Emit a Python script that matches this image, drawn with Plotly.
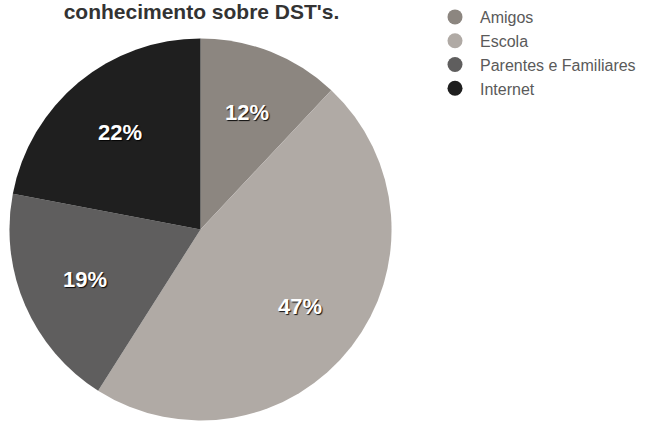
import math
import plotly.graph_objects as go

labels = ["Amigos", "Escola", "Parentes e Familiares", "Internet"]
values = [12, 47, 19, 22]
colors = ["#8c8680", "#b0aaa5", "#5f5e5e", "#1f1f1f"]
title_text = "conhecimento sobre DST's."

W, H = 661, 421
cx, cy, r = 200.5, 229, 191.5
label_frac = 0.66

fig = go.Figure()
fig.add_trace(go.Pie(
    labels=labels, values=values, sort=False, direction="clockwise", rotation=0,
    marker=dict(colors=colors, line=dict(width=0)),
    textinfo="none", showlegend=False, hoverinfo="label+percent",
    domain=dict(x=[(cx - r) / W, (cx + r) / W], y=[1 - (cy + r) / H, 1 - (cy - r) / H]),
))
for lab, col in zip(labels, colors):
    fig.add_trace(go.Scatter(x=[None], y=[None], mode="markers", name=lab,
                             marker=dict(symbol="circle", size=15, color=col)))

# percent labels placed along each slice's mid-angle
total = sum(values)
cum = 0
annotations = []
for v in values:
    mid = (cum + v / 2) / total * 2 * math.pi
    cum += v
    px = cx + label_frac * r * math.sin(mid)
    py = cy - label_frac * r * math.cos(mid)
    annotations.append(dict(
        x=px / W, y=1 - py / H, xref="paper", yref="paper", showarrow=False,
        text=f"{round(v / total * 100)}%", xanchor="center", yanchor="middle",
        font=dict(family="Liberation Sans", size=22, color="white", weight="bold",
                  shadow="1px 1px 1px rgba(0,0,0,0.9)"),
    ))

fig.update_layout(
    width=W, height=H, margin=dict(l=0, r=0, t=0, b=0),
    paper_bgcolor="white", plot_bgcolor="white",
    xaxis=dict(visible=False), yaxis=dict(visible=False),
    annotations=annotations,
    title=dict(text=title_text, x=201.5 / W, xanchor="center", xref="paper",
               y=1 - 12 / H, yref="container", yanchor="middle",
               font=dict(family="Liberation Sans", size=21, color="#333333", weight="bold")),
    legend=dict(x=430 / W, y=1 + 1 / H, xanchor="left", yanchor="top",
                font=dict(family="Liberation Sans", size=16, color="#5a5a5a"),
                itemwidth=40, tracegroupgap=0, bgcolor="rgba(0,0,0,0)"),
)
fig.write_html("out.html")
